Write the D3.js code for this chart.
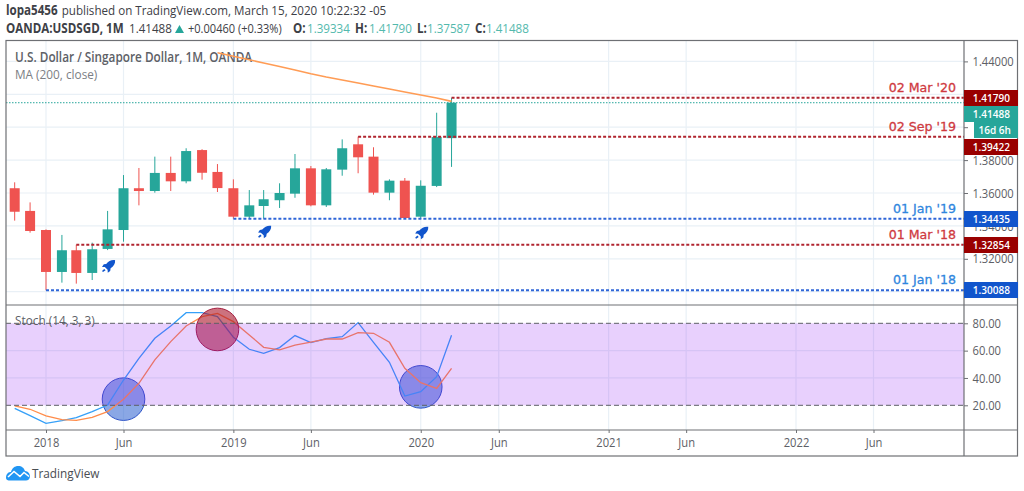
<!DOCTYPE html>
<html>
<head>
<meta charset="utf-8">
<title>USDSGD 1M</title>
<script src="https://cdn.jsdelivr.net/npm/d3@7"></script>
<style>
  html, body { margin: 0; padding: 0; background: #fff; }
  svg { display: block; font-family: "Open Sans", sans-serif; }
  .tick text { font-size: 12.8px; fill: #5d6066; font-family: "Open Sans", sans-serif; }
  .tick line { stroke: #6e7074; }
</style>
</head>
<body>
<svg id="chart" width="1024" height="491"></svg>
<script>
var months = ['2017-11','2017-12','2018-01','2018-02','2018-03','2018-04','2018-05','2018-06','2018-07','2018-08','2018-09','2018-10','2018-11','2018-12','2019-01','2019-02','2019-03','2019-04','2019-05','2019-06','2019-07','2019-08','2019-09','2019-10','2019-11','2019-12','2020-01','2020-02','2020-03'];
var opens  = [1.3629,1.3491,1.3375,1.3120,1.3252,1.3114,1.3260,1.3375,1.3629,1.3612,1.3722,1.3671,1.3861,1.3728,1.3629,1.3456,1.3521,1.3556,1.3596,1.3750,1.3525,1.3742,1.3896,1.3821,1.3602,1.3675,1.3456,1.3643,1.39334];
var highs  = [1.3665,1.3543,1.3379,1.3345,1.32854,1.3298,1.3491,1.3709,1.3752,1.3821,1.3821,1.3872,1.3866,1.3776,1.3683,1.3618,1.3618,1.3659,1.3837,1.3764,1.3752,1.3926,1.39422,1.3878,1.3683,1.3691,1.3677,1.4088,1.41790];
var lows   = [1.3432,1.3359,1.30088,1.3055,1.3049,1.3071,1.3253,1.3304,1.3525,1.3602,1.3612,1.3659,1.3681,1.3606,1.34435,1.3446,1.3444,1.3509,1.3571,1.3519,1.3515,1.3705,1.3720,1.3590,1.3556,1.3444,1.3444,1.3636,1.37587];
var closes = [1.3486,1.3369,1.3120,1.3252,1.3114,1.3258,1.3379,1.3629,1.3612,1.3722,1.3671,1.3855,1.3723,1.3630,1.3456,1.3525,1.3562,1.3600,1.3750,1.3525,1.3744,1.3872,1.3817,1.3602,1.3675,1.3448,1.3644,1.3940,1.41488];

// the 200 month average only starts at dec 2018
var maMonths = months.slice(13);
var maValues = [1.4453,1.4431,1.4410,1.4390,1.4369,1.4348,1.4325,1.4305,1.4287,1.4269,1.4250,1.4232,1.4214,1.4196,1.4178,1.4157];

var stochK = [17.8,12.4,6.8,8.8,11,15.4,20.2,38.5,54.4,69,78,87.8,87.8,84.9,69.8,61,58,62.2,71,65.9,68.8,70.2,80.5,66.1,51.5,26.8,30,41,71.2];
var stochD = [19.5,17.1,12.2,9.5,9,11.2,15.4,24.4,36.1,53.2,66.6,78,84.9,87.3,81.2,71.5,62.4,60.5,64.1,66.3,68.5,68.5,73.2,72.7,66.1,47.1,36.6,32.4,47.1];

var priceTicks = [1.30,1.32,1.34,1.36,1.38,1.40,1.42,1.44];
var hiddenPriceLabels = [1.30,1.40,1.42]; // these sit behind the flags
var stochTicks = [20,40,60,80];
var timeTicks = ['2018-01','2018-06','2019-01','2019-06','2020-01','2020-06','2021-01','2021-06','2022-01','2022-06'];
var timeLabels = ['2018','Jun','2019','Jun','2020','Jun','2021','Jun','2022','Jun'];

var levelPrices = [1.41790,1.39422,1.34435,1.32854,1.30088];
var levelMonths = ['2020-03','2019-09','2019-01','2018-03','2018-01'];
var levelNames = ["02 Mar '20","02 Sep '19","01 Jan '19","01 Mar '18","01 Jan '18"];
var levelColors = ['red','red','blue','red','blue'];

var rocketMonths = ['2018-05','2019-03','2020-01'];
var rocketPrices = [1.3152,1.3361,1.3355];

var circleMonths = ['2018-06','2018-12','2020-01'];
var circleValues = [24.5,75.5,33.5];
var circleKinds = ['blue','red','blue'];

var parseMonth = d3.timeParse('%Y-%m');
var svg = d3.select('#chart');

var x = d3.scaleTime().domain([parseMonth('2018-01'), parseMonth('2022-01')]).range([46, 796]);
var yPrice = d3.scaleLinear().domain([1.30, 1.44]).range([291.7, 61.4]);
var yStoch = d3.scaleLinear().domain([20, 80]).range([405.3, 323.3]);

var paneLeft = 6, axisX = 964, paneRight = 1017.5, paneTop = 40.5, split = 305, timeY = 430, paneBottom = 456;
var UP = '#26a69a', DOWN = '#ef5350', GRID = '#e9f0f6', FRAME = '#6e7074';
var LEVEL = { red: '#b0242f', blue: '#2f66d8' }, LEVEL_TEXT = { red: '#cf3a3f', blue: '#2f86de' }, BADGE = { red: '#990000', blue: '#1155cc' };

// where each price flag sits, they get pushed around so they dont overlap
var badgeTops = [90, 139, 211, 237, 282];

svg.append('clipPath').attr('id', 'pricePane').append('rect')
  .attr('x', paneLeft).attr('y', paneTop).attr('width', axisX - paneLeft).attr('height', split - paneTop);

// grid
var grid = svg.append('g').attr('stroke', GRID).attr('stroke-width', 1.2);
grid.selectAll('.v').data(timeTicks).enter().append('line')
  .attr('x1', function (d) { return x(parseMonth(d)); })
  .attr('x2', function (d) { return x(parseMonth(d)); })
  .attr('y1', paneTop).attr('y2', timeY);
grid.selectAll('.h').data(priceTicks).enter().append('line')
  .attr('x1', paneLeft).attr('x2', axisX)
  .attr('y1', function (d) { return yPrice(d); })
  .attr('y2', function (d) { return yPrice(d); });
grid.selectAll('.s').data([40, 60]).enter().append('line')
  .attr('x1', paneLeft).attr('x2', axisX)
  .attr('y1', function (d) { return yStoch(d); })
  .attr('y2', function (d) { return yStoch(d); });

// last price line
svg.append('line').attr('x1', paneLeft).attr('x2', axisX)
  .attr('y1', yPrice(closes[closes.length - 1])).attr('y2', yPrice(closes[closes.length - 1]))
  .attr('stroke', UP).attr('stroke-dasharray', '1.5,1.5');

// pane titles
svg.append('text').attr('x', 15).attr('y', 62).attr('font-size', 13.5).attr('font-weight', 600).attr('fill', '#5d6066')
  .text('U.S. Dollar / Singapore Dollar, 1M, OANDA');
svg.append('text').attr('x', 15).attr('y', 79).attr('font-size', 13.5).attr('fill', '#7b7e84').text('MA (200, close)');

// candles
var candles = svg.append('g').attr('clip-path', 'url(#pricePane)').selectAll('g').data(months).enter().append('g');
candles.append('line')
  .attr('x1', function (d) { return x(parseMonth(d)); })
  .attr('x2', function (d) { return x(parseMonth(d)); })
  .attr('y1', function (d, i) { return yPrice(highs[i]); })
  .attr('y2', function (d, i) { return yPrice(lows[i]); })
  .attr('stroke', function (d, i) { return closes[i] >= opens[i] ? UP : DOWN; })
  .attr('stroke-width', 1);
candles.append('rect')
  .attr('x', function (d) { return x(parseMonth(d)) - 5; })
  .attr('width', 10)
  .attr('y', function (d, i) { return yPrice(Math.max(opens[i], closes[i])); })
  .attr('height', function (d, i) { return Math.max(1.5, Math.abs(yPrice(opens[i]) - yPrice(closes[i]))); })
  .attr('fill', function (d, i) { return closes[i] >= opens[i] ? UP : DOWN; });

// moving average
var maLine = d3.line()
  .x(function (d, i) { return x(parseMonth(maMonths[i])); })
  .y(function (d) { return yPrice(d); });
svg.append('path').datum(maValues).attr('d', maLine).attr('fill', 'none').attr('stroke', '#ff9c55').attr('stroke-width', 1.6);

// marked levels
levelPrices.forEach(function (p, i) {
  var kind = levelColors[i];
  svg.append('line')
    .attr('x1', x(parseMonth(levelMonths[i]))).attr('x2', axisX)
    .attr('y1', yPrice(p)).attr('y2', yPrice(p))
    .attr('stroke', LEVEL[kind]).attr('stroke-width', 2).attr('stroke-dasharray', '3,2');
  svg.append('text')
    .attr('class', 'level')
    .attr('x', 956).attr('y', yPrice(p) - 6)
    .attr('text-anchor', 'end').attr('font-size', 13)
    .attr('font-family', '"DejaVu Sans", sans-serif')
    .attr('fill', LEVEL_TEXT[kind]).attr('stroke', LEVEL_TEXT[kind]).attr('stroke-width', 0.3)
    .text(levelNames[i]);
});

// rockets
var rocketPath = 'M7.5,-6.5 C7.8,-3 6,-0.5 3,1.5 L2.6,4.2 L0.2,6 L0,3 L-2.8,0.4 L-5.6,0.2 L-3.8,-2.4 L-1.4,-2.8 C1,-5.8 4,-7 7.5,-6.5 Z M-3.4,2.2 L-2,3.6 L-4.6,5.4 L-5.6,4.4 Z';
svg.append('g').selectAll('path').data(rocketMonths).enter().append('path')
  .attr('d', rocketPath)
  .attr('transform', function (d, i) { return 'translate(' + x(parseMonth(d)) + ',' + yPrice(rocketPrices[i]) + ')'; })
  .attr('fill', '#1155cc');

function drawCircles(kind) {
  svg.append('g').selectAll('circle').data(circleMonths).enter()
    .filter(function (d, i) { return circleKinds[i] === kind; })
    .append('circle')
    .attr('cx', function (d) { return x(parseMonth(d)); })
    .attr('cy', function (d) { return yStoch(circleValues[circleMonths.indexOf(d)]); })
    .attr('r', 21.3)
    .attr('fill', kind === 'blue' ? '#2e62d0' : '#aa1428')
    .attr('fill-opacity', kind === 'blue' ? 0.56 : 0.6)
    .attr('stroke', kind === 'blue' ? '#2f55c8' : '#a31d3f')
    .attr('stroke-width', 1);
}

// blue circles are under the lines, the red one hides them
drawCircles('blue');

// stoch lines
var stochLine = d3.line()
  .x(function (d, i) { return x(parseMonth(months[i])); })
  .y(function (d) { return yStoch(d); });
svg.append('path').datum(stochK).attr('d', stochLine).attr('fill', 'none').attr('stroke', '#36a0f8').attr('stroke-width', 1.3);
svg.append('path').datum(stochD).attr('d', stochLine).attr('fill', 'none').attr('stroke', '#ff8c4a').attr('stroke-width', 1.3);

drawCircles('red');

// band goes over the circles, thats why they change colour at the 20 and 80 lines
svg.append('rect')
  .attr('x', paneLeft).attr('width', axisX - paneLeft)
  .attr('y', yStoch(80)).attr('height', yStoch(20) - yStoch(80))
  .attr('fill', '#8c14f5').attr('fill-opacity', 0.2);

svg.selectAll('.bound').data([20, 80]).enter().append('line')
  .attr('x1', paneLeft).attr('x2', axisX)
  .attr('y1', function (d) { return yStoch(d); })
  .attr('y2', function (d) { return yStoch(d); })
  .attr('stroke', '#5d6066').attr('stroke-dasharray', '5,3');

svg.append('text').attr('x', 15).attr('y', 325).attr('font-size', 13.5).attr('fill', '#5d6066').text('Stoch (14, 3, 3)');

// axes
var priceAxis = d3.axisRight(yPrice).tickValues(priceTicks)
  .tickFormat(function (d) { return hiddenPriceLabels.indexOf(d) > -1 ? '' : d3.format('.5f')(d); })
  .tickSize(4).tickPadding(4.5);
var stochAxis = d3.axisRight(yStoch).tickValues(stochTicks).tickFormat(d3.format('.2f')).tickSize(4).tickPadding(4.5);
var timeAxis = d3.axisBottom(x).tickValues(timeTicks.map(parseMonth))
  .tickFormat(function (d, i) { return timeLabels[i]; }).tickSize(3).tickPadding(5);

svg.append('g').attr('transform', 'translate(' + axisX + ',0)').call(priceAxis).call(function (g) { g.select('.domain').remove(); });
svg.append('g').attr('transform', 'translate(' + axisX + ',0)').call(stochAxis).call(function (g) { g.select('.domain').remove(); });
svg.append('g').attr('transform', 'translate(0,' + timeY + ')').call(timeAxis).call(function (g) { g.select('.domain').remove(); });

// frame
var frame = svg.append('g').attr('stroke', FRAME).attr('stroke-width', 1.2).attr('fill', 'none');
frame.append('rect').attr('x', paneLeft).attr('y', paneTop).attr('width', paneRight - paneLeft).attr('height', paneBottom - paneTop);
frame.append('line').attr('x1', axisX).attr('x2', axisX).attr('y1', paneTop).attr('y2', paneBottom);
frame.append('line').attr('x1', paneLeft).attr('x2', paneRight).attr('y1', split).attr('y2', split);
frame.append('line').attr('x1', paneLeft).attr('x2', paneRight).attr('y1', timeY).attr('y2', timeY);

// price flags
function flag(yTop, color, label, flagX, textX) {
  svg.append('rect').attr('x', flagX).attr('y', yTop)
    .attr('width', paneRight + 0.5 - flagX).attr('height', 16).attr('fill', color);
  svg.append('text').attr('x', textX).attr('y', yTop + 12)
    .attr('font-size', 11.5).attr('font-weight', 600).attr('fill', '#fff').text(label);
}
levelPrices.forEach(function (p, i) {
  flag(badgeTops[i], BADGE[levelColors[i]], d3.format('.5f')(p), axisX, 972.7);
});
flag(106, UP, d3.format('.5f')(closes[closes.length - 1]), axisX, 972.7);
flag(122, UP, '16d 6h', 974, 978.5);

// header
var head = svg.append('g').attr('font-size', 13.3).attr('fill', '#3d4046');
var headerTop = [
  ['lopa5456', 6, 700],
  ['published on TradingView.com, March 15, 2020 10:22:32 -05', 61.7, 400]
];
head.selectAll('.top').data(headerTop).enter().append('text')
  .attr('x', function (d) { return d[1]; }).attr('y', 15)
  .attr('font-weight', function (d) { return d[2]; })
  .text(function (d) { return d[0]; });

var headerParts = [
  ['OANDA:USDSGD, 1M', 6, 700, '#3d4046'],
  ['1.41488', 129, 400, '#3d4046'],
  ['+0.00460 (+0.33%)', 188, 400, '#3d4046'],
  ['O:', 293, 700, '#3d4046'], ['1.39334', 307, 400, '#53b9ad'],
  ['H:', 355, 700, '#3d4046'], ['1.41790', 369, 400, '#53b9ad'],
  ['L:', 417, 700, '#3d4046'], ['1.37587', 427, 400, '#53b9ad'],
  ['C:', 475, 700, '#3d4046'], ['1.41488', 486, 400, '#53b9ad']
];
head.selectAll('.part').data(headerParts).enter().append('text')
  .attr('class', function (d) { return d[0].charAt(0) === '+' ? 'tight' : null; })
  .attr('x', function (d) { return d[1]; }).attr('y', 33)
  .attr('font-weight', function (d) { return d[2]; })
  .attr('fill', function (d) { return d[3]; })
  .text(function (d) { return d[0]; });
svg.append('path').attr('d', 'M175,33 L179.5,25 L184,33 Z').attr('fill', UP);

// logo
svg.append('path')
  .attr('d', 'M6,478 C6,473 9,472 11,472 C12,468 15,466 18,466 C22,466 24,468 25,471 C28,471 30,474 30,476 C30,479 28,480.5 26,480.5 L10,480.5 C8,480.5 6,480 6,478 Z')
  .attr('fill', '#2196f3');
svg.append('path').attr('d', 'M8,477 L14,471.5 L20,476.5 L24,472.5 L29,476.5')
  .attr('fill', 'none').attr('stroke', '#fff').attr('stroke-width', 1.6);
svg.append('text').attr('x', 32).attr('y', 478).attr('font-size', 13.5).attr('fill', '#4a4d52').text('TradingView');

// the original type is narrower than open sans, squeeze everything to fit
var squeeze = { level: 0.97, tight: 0.83 };
svg.selectAll('text').each(function () {
  var factor = squeeze[this.getAttribute('class')] || 0.873;
  var len = this.getComputedTextLength();
  if (len > 0) {
    this.setAttribute('textLength', len * factor);
    this.setAttribute('lengthAdjust', 'spacingAndGlyphs');
  }
});
</script>
</body>
</html>
